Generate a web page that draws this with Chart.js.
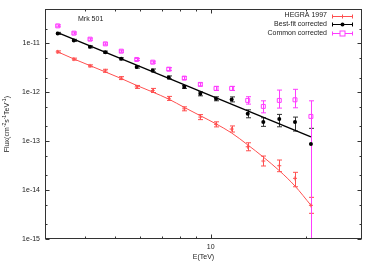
<!DOCTYPE html>
<html>
<head>
<meta charset="utf-8">
<script src="https://cdn.jsdelivr.net/npm/chart.js@4/dist/chart.umd.min.js"></script>
<style>
  html, body { margin: 0; padding: 0; background: #fff; }
  canvas { display: block; }
</style>
</head>
<body>
<canvas id="grafica" width="374" height="262"></canvas>
<script>
// energias (TeV) de los bins
const energia = [3.29, 3.70, 4.16, 4.65, 5.22, 5.84, 6.56, 7.37, 8.25, 9.27, 10.39, 11.64, 13.08, 14.65, 16.45, 18.44, 20.7];

// HEGRA 1997
const hegraFlujo = [6.71e-12, 4.76e-12, 3.47e-12, 2.75e-12, 1.95e-12, 1.29e-12, 1.09e-12, 7.5e-13, 4.59e-13, 3.11e-13, 2.21e-13, 1.77e-13, 7.69e-14, 3.93e-14, 3.15e-14, 1.74e-14, 4.88e-15];
const hegraAlto = [7.03e-12, 4.99e-12, 3.64e-12, 2.95e-12, 2.09e-12, 1.38e-12, 1.20e-12, 8.24e-13, 5.04e-13, 3.50e-13, 2.49e-13, 2.05e-13, 9.28e-14, 4.97e-14, 4.12e-14, 2.31e-14, 7.11e-15];
const hegraBajo = [6.40e-12, 4.54e-12, 3.31e-12, 2.56e-12, 1.82e-12, 1.20e-12, 0.99e-12, 6.82e-13, 4.18e-13, 2.76e-13, 1.96e-13, 1.54e-13, 6.37e-14, 3.11e-14, 2.38e-14, 1.17e-14, 3.35e-15];
const hegraAjuste = [6.71e-12, 4.80e-12, 3.51e-12, 2.61e-12, 1.91e-12, 1.38e-12, 1.01e-12, 7.25e-13, 4.91e-13, 3.32e-13, 2.26e-13, 1.47e-13, 8.41e-14, 4.73e-14, 2.50e-14, 1.21e-14, 4.89e-15];

// Best-fit corrected
const mejorFlujo = [1.60e-11, 1.15e-11, 8.49e-12, 6.62e-12, 4.83e-12, 3.27e-12, 2.80e-12, 2.01e-12, 1.29e-12, 9.3e-13, 7.36e-13, 7.15e-13, 3.63e-13, 2.46e-13, 2.83e-13, 2.46e-13, 8.73e-14];
const mejorAlto = [1.68e-11, 1.21e-11, 8.90e-12, 6.94e-12, 5.06e-12, 3.43e-12, 3.00e-12, 2.16e-12, 1.38e-12, 1.02e-12, 8.09e-13, 8.04e-13, 4.38e-13, 3.01e-13, 3.53e-13, 3.11e-13, 1.83e-13];
const mejorBajo = [1.53e-11, 1.10e-11, 8.10e-12, 6.32e-12, 4.61e-12, 3.12e-12, 2.61e-12, 1.87e-12, 1.20e-12, 8.46e-13, 6.70e-13, 6.36e-13, 3.01e-13, 2.01e-13, 1.97e-13, 1.61e-13, 1e-16];
const mejorRectaE = [3.29, 20.7];
const mejorRectaF = [1.66e-11, 1.23e-13];

// Common corrected
const comunFlujo = [2.28e-11, 1.62e-11, 1.22e-11, 9.78e-12, 6.93e-12, 4.69e-12, 4.13e-12, 2.97e-12, 1.95e-12, 1.45e-12, 1.20e-12, 1.20e-12, 6.82e-13, 5.14e-13, 6.82e-13, 7.02e-13, 3.21e-13];
const comunAlto = [2.39e-11, 1.70e-11, 1.28e-11, 1.025e-11, 7.26e-12, 4.92e-12, 4.33e-12, 3.19e-12, 2.09e-12, 1.56e-12, 1.32e-12, 1.32e-12, 8.12e-13, 6.69e-13, 1.11e-12, 1.15e-12, 6.69e-13];
const comunBajo = [2.18e-11, 1.55e-11, 1.16e-11, 9.33e-12, 6.61e-12, 4.48e-12, 3.94e-12, 2.77e-12, 1.82e-12, 1.35e-12, 1.09e-12, 1.09e-12, 5.73e-13, 3.80e-13, 4.75e-13, 4.82e-13, 1e-16];

// ticks
const xMayores = [10];
const xMenores = [4, 5, 6, 7, 8, 9, 20];
const yMayores = [1e-15, 1e-14, 1e-13, 1e-12, 1e-11];
const yMenores = [2e-15, 5e-15, 2e-14, 5e-14, 2e-13, 5e-13, 2e-12, 5e-12, 2e-11];

const ROJO = 'rgb(255,80,80)';
const NEGRO = '#000';
const MAGENTA = 'rgb(255,60,255)';
const FUENTE = '"Liberation Sans", Arial, sans-serif';
const TEXTO = '#222';

const pares = (xs, ys) => xs.map((x, i) => ({ x, y: ys[i] }));

// barras de error, ticks hacia dentro, marco, leyenda y titulos
const extras = {
    id: 'extras',
    beforeDatasetsDraw(chart) {
        const ctx = chart.ctx;
        const a = chart.chartArea;
        const sx = chart.scales.x;
        const sy = chart.scales.y;
        ctx.save();
        ctx.beginPath();
        ctx.rect(a.left, a.top, a.right - a.left, a.bottom - a.top);
        ctx.clip();
        chart.data.datasets.forEach(ds => {
            if (!ds.errAlto) return;
            ctx.strokeStyle = ds.borderColor;
            ctx.lineWidth = 1;
            ds.data.forEach((p, i) => {
                const x = Math.round(sx.getPixelForValue(p.x)) + 0.5;
                const y1 = sy.getPixelForValue(ds.errAlto[i]);
                const y2 = sy.getPixelForValue(ds.errBajo[i]);
                ctx.beginPath();
                ctx.moveTo(x, y1);
                ctx.lineTo(x, y2);
                ctx.moveTo(x - 2.5, y1);
                ctx.lineTo(x + 2.5, y1);
                ctx.moveTo(x - 2.5, y2);
                ctx.lineTo(x + 2.5, y2);
                ctx.stroke();
            });
        });
        ctx.restore();
    },
    afterDraw(chart) {
        const ctx = chart.ctx;
        const a = chart.chartArea;
        const sx = chart.scales.x;
        const sy = chart.scales.y;
        ctx.save();
        ctx.strokeStyle = '#333';
        ctx.lineWidth = 1;
        const L = Math.round(a.left) + 0.5, R = Math.round(a.right) - 0.5;
        const T = Math.round(a.top) + 0.5, B = Math.round(a.bottom) - 0.5;
        ctx.strokeRect(L, T, R - L, B - T);

        ctx.beginPath();
        const tickX = (v, len) => {
            const x = Math.round(sx.getPixelForValue(v)) + 0.5;
            ctx.moveTo(x, B); ctx.lineTo(x, B - len);
            ctx.moveTo(x, T); ctx.lineTo(x, T + len);
        };
        const tickY = (v, len) => {
            const y = Math.round(sy.getPixelForValue(v)) + 0.5;
            ctx.moveTo(L, y); ctx.lineTo(L + len, y);
            ctx.moveTo(R, y); ctx.lineTo(R - len, y);
        };
        xMayores.forEach(v => tickX(v, 4));
        xMenores.forEach(v => tickX(v, 2));
        yMayores.forEach(v => tickY(v, 4));
        yMenores.forEach(v => tickY(v, 2));
        ctx.stroke();

        // texto Mrk 501
        ctx.fillStyle = TEXTO;
        ctx.font = '7px ' + FUENTE;
        ctx.textBaseline = 'middle';
        ctx.textAlign = 'left';
        ctx.fillText('Mrk 501', 78, 19.5);

        // leyenda
        const filas = [
            { txt: 'HEGRA 1997', color: ROJO, marca: 'cruz' },
            { txt: 'Best-fit corrected', color: NEGRO, marca: 'circulo' },
            { txt: 'Common corrected', color: MAGENTA, marca: 'cuadro' }
        ];
        filas.forEach((f, i) => {
            const y = 15.5 + i * 8.6;
            ctx.fillStyle = TEXTO;
            ctx.textAlign = 'right';
            ctx.fillText(f.txt, 327, y);
            const yy = Math.round(y) + 0.5;
            ctx.strokeStyle = f.color;
            ctx.beginPath();
            ctx.moveTo(332, yy); ctx.lineTo(353, yy);
            ctx.moveTo(332.5, yy - 2); ctx.lineTo(332.5, yy + 2);
            ctx.moveTo(352.5, yy - 2); ctx.lineTo(352.5, yy + 2);
            ctx.stroke();
            const cx = 342.5;
            if (f.marca === 'cruz') {
                ctx.beginPath();
                ctx.moveTo(cx, yy - 2); ctx.lineTo(cx, yy + 2);
                ctx.stroke();
            } else if (f.marca === 'circulo') {
                ctx.fillStyle = f.color;
                ctx.beginPath();
                ctx.arc(cx, yy, 2, 0, Math.PI * 2);
                ctx.fill();
            } else {
                ctx.fillStyle = '#fff';
                ctx.fillRect(cx - 2.5, yy - 2.5, 5, 5);
                ctx.strokeRect(cx - 2.5, yy - 2.5, 5, 5);
            }
        });

        // titulo eje x
        ctx.fillStyle = TEXTO;
        ctx.textAlign = 'center';
        ctx.font = '7px ' + FUENTE;
        ctx.fillText('E(TeV)', (a.left + a.right) / 2, 257);

        // titulo eje y con superindices
        const partes = [['Flux(cm', 0], ['-2', 1], ['s', 0], ['-1', 1], ['TeV', 0], ['-1', 1], [')', 0]];
        const fNormal = '7px ' + FUENTE;
        const fSup = '5px ' + FUENTE;
        let total = 0;
        partes.forEach(p => { ctx.font = p[1] ? fSup : fNormal; total += ctx.measureText(p[0]).width; });
        ctx.translate(7, (a.top + a.bottom) / 2);
        ctx.rotate(-Math.PI / 2);
        ctx.textAlign = 'left';
        let px = -total / 2;
        partes.forEach(p => {
            ctx.font = p[1] ? fSup : fNormal;
            ctx.fillText(p[0], px, p[1] ? -2.5 : 0);
            px += ctx.measureText(p[0]).width;
        });
        ctx.restore();
    }
};

const config = {
    type: 'scatter',
    data: {
        datasets: [
            {
                label: 'HEGRA 1997 fit',
                data: pares(energia, hegraAjuste),
                showLine: true,
                borderColor: ROJO,
                borderWidth: 1,
                pointRadius: 0,
                cubicInterpolationMode: 'monotone'
            },
            {
                label: 'HEGRA 1997',
                data: pares(energia, hegraFlujo),
                errAlto: hegraAlto,
                errBajo: hegraBajo,
                borderColor: ROJO,
                backgroundColor: ROJO,
                pointStyle: 'cross',
                pointRadius: 2,
                borderWidth: 1
            },
            {
                label: 'Best-fit line',
                data: pares(mejorRectaE, mejorRectaF),
                showLine: true,
                borderColor: NEGRO,
                borderWidth: 1.3,
                pointRadius: 0
            },
            {
                label: 'Best-fit corrected',
                data: pares(energia, mejorFlujo),
                errAlto: mejorAlto,
                errBajo: mejorBajo,
                borderColor: '#333',
                backgroundColor: NEGRO,
                pointStyle: 'circle',
                pointRadius: 2,
                borderWidth: 0
            },
            {
                label: 'Common corrected',
                data: pares(energia, comunFlujo),
                errAlto: comunAlto,
                errBajo: comunBajo,
                borderColor: MAGENTA,
                backgroundColor: 'rgba(255,255,255,0)',
                pointStyle: 'rect',
                pointRadius: 2.8,
                borderWidth: 1
            }
        ]
    },
    options: {
        responsive: false,
        animation: false,
        devicePixelRatio: 1,
        layout: { padding: { top: 9, right: 12, left: 0, bottom: 0 } },
        plugins: {
            legend: { display: false },
            tooltip: { enabled: false }
        },
        scales: {
            x: {
                type: 'logarithmic',
                min: 3,
                max: 30,
                grid: { display: false, drawTicks: false },
                border: { display: false },
                afterBuildTicks: s => { s.ticks = xMayores.map(v => ({ value: v })); },
                afterFit: s => { s.height = 23; },
                ticks: {
                    padding: 4,
                    color: TEXTO,
                    font: { family: FUENTE, size: 7 },
                    maxRotation: 0,
                    autoSkip: false,
                    callback: v => String(v)
                }
            },
            y: {
                type: 'logarithmic',
                min: 1e-15,
                max: 5e-11,
                grid: { display: false, drawTicks: false },
                border: { display: false },
                afterBuildTicks: s => { s.ticks = yMayores.map(v => ({ value: v })); },
                afterFit: s => { s.width = 45; },
                ticks: {
                    padding: 5,
                    color: TEXTO,
                    font: { family: FUENTE, size: 7 },
                    autoSkip: false,
                    callback: v => '1e' + Math.round(Math.log10(v))
                }
            }
        }
    },
    plugins: [extras]
};

new Chart(document.getElementById('grafica'), config);
</script>
</body>
</html>
